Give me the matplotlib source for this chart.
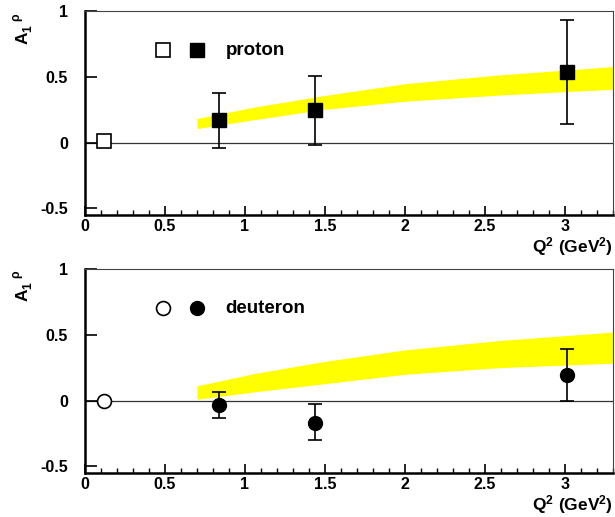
import matplotlib
matplotlib.use("Agg")
import matplotlib.pyplot as plt
from matplotlib.ticker import MultipleLocator, FormatStrFormatter

plt.rcParams["font.family"] = "Liberation Sans"
plt.rcParams["font.weight"] = "bold"
plt.rcParams["mathtext.fontset"] = "custom"
plt.rcParams["mathtext.rm"] = "Liberation Sans:bold"
plt.rcParams["mathtext.bf"] = "Liberation Sans:bold"
plt.rcParams["mathtext.it"] = "Liberation Sans:bold"

# proton
p_open_x = [0.12]
p_open_y = [0.012]
p_x = [0.84, 1.44, 3.01]
p_y = [0.17, 0.246, 0.539]
p_err_lo = [0.21, 0.266, 0.399]
p_err_hi = [0.21, 0.259, 0.395]
p_band_x = [0.7, 1.07, 1.49, 2.0, 2.59, 3.3]
p_band_top = [0.183, 0.272, 0.356, 0.447, 0.514, 0.577]
p_band_bot = [0.107, 0.176, 0.252, 0.314, 0.361, 0.405]

# deuteron
d_open_x = [0.12]
d_open_y = [0.0]
d_x = [0.84, 1.44, 3.01]
d_y = [-0.033, -0.167, 0.195]
d_err_lo = [0.101, 0.131, 0.197]
d_err_hi = [0.101, 0.140, 0.195]
d_band_x = [0.7, 1.07, 1.49, 2.0, 2.59, 3.3]
d_band_top = [0.112, 0.208, 0.296, 0.385, 0.456, 0.52]
d_band_bot = [0.01, 0.068, 0.127, 0.2, 0.25, 0.284]

fig = plt.figure(figsize=(6.15, 5.17), dpi=100)
ax_p = fig.add_axes([0.138, 0.584, 0.859, 0.395])
ax_d = fig.add_axes([0.138, 0.085, 0.859, 0.395])


def style_axes(ax):
    ax.set_xlim(0, 3.3)
    ax.set_ylim(-0.55, 1.0)
    ax.xaxis.set_major_locator(MultipleLocator(0.5))
    ax.xaxis.set_minor_locator(MultipleLocator(0.1))
    ax.yaxis.set_major_locator(MultipleLocator(0.5))
    ax.xaxis.set_major_formatter(FormatStrFormatter("%g"))
    ax.yaxis.set_major_formatter(FormatStrFormatter("%g"))
    ax.tick_params(axis="x", which="major", direction="in", length=6.5, width=1.2,
                   labelsize=11.5, pad=3)
    ax.tick_params(axis="x", which="minor", direction="in", length=3.6, width=1.0)
    ax.tick_params(axis="y", which="major", direction="in", length=8.6, width=1.2,
                   labelsize=11.5, pad=12)
    ax.tick_params(top=False, right=False)
    for s in ("left", "bottom"):
        ax.spines[s].set_linewidth(1.8)
        ax.spines[s].set_color("black")
    for s in ("top", "right"):
        ax.spines[s].set_linewidth(0.8)
        ax.spines[s].set_color("#444444")
    ax.axhline(0, color="#333333", lw=0.9, zorder=1)
    ax.text(-0.116, 0.995, r"$\mathbf{A}_{1}^{\ \ \ \rho}$", transform=ax.transAxes,
            rotation=90, ha="center", va="top", fontsize=12.5)
    ax.text(1.0, -0.1, r"$\mathbf{Q^{2}\ (GeV^{2})}$", transform=ax.transAxes,
            ha="right", va="top", fontsize=12.5)


for ax in (ax_p, ax_d):
    style_axes(ax)

# proton panel
ax_p.fill_between(p_band_x, p_band_bot, p_band_top, color="#ffff00", lw=0, zorder=2)
ax_p.errorbar(p_x, p_y, yerr=[p_err_lo, p_err_hi], fmt="s", color="black", ms=10,
              capsize=5, elinewidth=1.2, capthick=1.2, zorder=3)
ax_p.plot(p_open_x, p_open_y, "s", ms=10, mfc="white", mec="black", mew=1.2, zorder=3)
ax_p.plot([0.49], [0.70], "s", ms=10.5, mfc="white", mec="black", mew=1.2)
ax_p.plot([0.70], [0.70], "s", ms=10, color="black")
ax_p.text(0.88, 0.70, "proton", fontsize=13.5, va="center", ha="left")

# deuteron panel
ax_d.fill_between(d_band_x, d_band_bot, d_band_top, color="#ffff00", lw=0, zorder=2)
ax_d.errorbar(d_x, d_y, yerr=[d_err_lo, d_err_hi], fmt="o", color="black", ms=10,
              capsize=5, elinewidth=1.2, capthick=1.2, zorder=3)
ax_d.plot(d_open_x, d_open_y, "o", ms=10, mfc="white", mec="black", mew=1.2, zorder=3)
ax_d.plot([0.49], [0.70], "o", ms=10, mfc="white", mec="black", mew=1.2)
ax_d.plot([0.70], [0.70], "o", ms=10, color="black")
ax_d.text(0.88, 0.70, "deuteron", fontsize=13.5, va="center", ha="left")

fig.savefig("out.png", dpi=100)
